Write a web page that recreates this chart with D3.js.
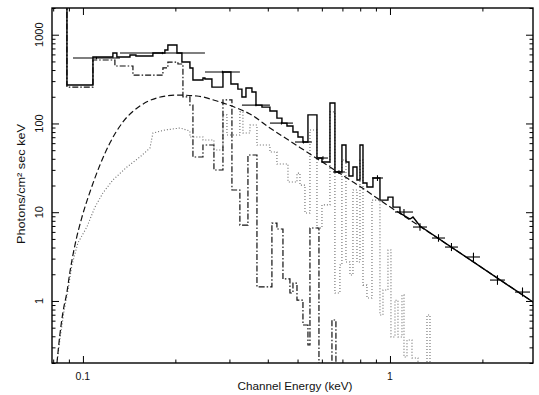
<!DOCTYPE html>
<html>
<head>
<meta charset="utf-8">
<script src="https://cdn.jsdelivr.net/npm/d3@7"></script>
<style>
  body { margin: 0; background: #fff; }
  text { font-family: "Liberation Sans", Arial, Helvetica, sans-serif; fill: #111; }
</style>
</head>
<body>
<svg id="chart" width="539" height="395"></svg>
<script>
// ---- Total model (solid histogram): bin edges in keV and photon flux per bin
const solidEdges = [0.0793, 0.0887, 0.1078, 0.1252, 0.1290, 0.1423, 0.1488, 0.1690, 0.1849, 0.1891,
  0.2024, 0.2101, 0.2231, 0.2282, 0.2460, 0.2497, 0.2631, 0.2858, 0.3034, 0.3197,
  0.3295, 0.3396, 0.3552, 0.3661, 0.3829, 0.4065, 0.4284, 0.4448, 0.4619, 0.4831,
  0.5016, 0.5207, 0.5406, 0.5784, 0.6005, 0.6376, 0.6618, 0.6975, 0.7189, 0.7352,
  0.7577, 0.7808, 0.7986, 0.8168, 0.8415, 0.8802, 0.9277, 0.9851, 1.0228, 1.0779];
const solidValues = [3000, 271, 561, 622, 561, 590, 575, 622, 672, 765,
  622, 492, 422, 309, 325, 317, 257, 380, 278, 244,
  199, 251, 226, 161, 153, 138, 115, 101, 93.6, 80.1,
  70.4, 61.8, 125, 40.8, 36.8, 170, 28.4, 57.2, 36.8, 25.6,
  32.3, 23.1, 57.2, 21.3, 19.2, 24.3, 13.7, 14.8, 11.4];
// high-energy end of the total model
const solidTailE = [1.0779, 1.1619, 1.1884, 1.2524, 2.923];
const solidTailF = [9.8, 8.38, 8.82, 6.99, 0.973];

// ---- Absorbed continuum (dashed)
const continuumE = [0.0823, 0.0841, 0.0861, 0.0887, 0.0907, 0.0942, 0.0993, 0.1054, 0.1136, 0.1224,
  0.1350, 0.1533, 0.1742, 0.2024, 0.2351, 0.2732, 0.3174, 0.3499, 0.4065, 0.4723,
  0.5488, 0.6376, 0.7408, 0.8415, 0.9277, 1.35, 2.923];
const continuumF = [0.200, 0.413, 0.751, 1.26, 2.12, 4.27, 8.83, 16.9, 34.0, 60.2,
  104, 157, 194, 209, 204, 179, 149, 128, 88.9, 63.4,
  45.3, 32.3, 23.1, 17.3, 13.7, 5.83, 0.973];

// ---- Hot plasma component (dotted): smooth low-energy part, then binned lines
const hotLowE = [0.0823, 0.0841, 0.0867, 0.0894, 0.0921, 0.0963, 0.1030, 0.1094, 0.1162, 0.1252,
  0.1391, 0.1533, 0.1653, 0.1690, 0.1849, 0.2070, 0.2231];
const hotLowF = [0.200, 0.363, 0.751, 1.33, 2.54, 4.50, 6.81, 11.4, 16.5, 23.1,
  32.3, 41.9, 52.9, 78.1, 84.4, 88.9, 82.2];
const hotEdges = [0.2231, 0.2460, 0.2671, 0.2858, 0.2945, 0.3245, 0.3320, 0.3499, 0.3688, 0.4065,
  0.4284, 0.4654, 0.4979, 0.5092, 0.5286, 0.5488, 0.5784, 0.6005, 0.6376, 0.6618,
  0.6871, 0.6975, 0.7189, 0.7408, 0.7577, 0.7808, 0.7986, 0.8168, 0.8415, 0.8738,
  0.9277, 0.9489, 0.9851, 1.0075, 1.0382, 1.0619, 1.0942, 1.1108, 1.1361, 1.1795,
  1.2338, 1.3199, 1.3500, 1.4553];
const hotValues = [70.4, 65.1, 50.2, 125, 74.1, 135, 78.1, 96.0, 57.2, 47.7,
  34.9, 21.9, 27.6, 20.2, 9.8, 84.4, 6.64, 12.1, 135, 1.23,
  2.54, 38.7, 2.75, 1.96, 17.8, 2.75, 38.7, 1.51, 1.08, 13.7,
  0.695, 1.33, 3.75, 0.393, 1.02, 0.393, 1.17, 0.234, 0.363, 0.228,
  0.147, 0.695, 0.1];

// ---- Cool plasma component (dash-dot histogram)
const coolEdges = [0.0793, 0.0887, 0.1078, 0.1271, 0.1455, 0.1822, 0.1891, 0.2039, 0.2117, 0.2231,
  0.2282, 0.2460, 0.2671, 0.2858, 0.3057, 0.3245, 0.3447, 0.3688, 0.4126, 0.4284,
  0.4482, 0.4723, 0.4831, 0.4979, 0.5207, 0.5406, 0.5488, 0.5871, 0.6472, 0.6668, 0.7134];
const coolValues = [3000, 257, 519, 444, 351, 422, 492, 468, 199, 161,
  41.9, 57.2, 29.9, 184, 17.8, 7.17, 44.1, 1.44, 7.55, 6.47,
  1.77, 1.23, 1.59, 1.02, 0.536, 0.319, 6.64, 0.1, 0.61, 0.1];

// ---- Observed spectrum: channel ranges, flux and 1-sigma range
const dataElo = [0.0928, 0.1320, 0.2497, 0.3295, 0.4065, 0.4905, 0.5828, 0.6521, 0.8738, 1.0382,
  1.1884, 1.3704, 1.5109, 1.781, 2.117, 2.554];
const dataEhi = [0.1320, 0.2497, 0.3245, 0.4065, 0.4831, 0.5570, 0.6281, 0.7134, 0.9489, 1.1884,
  1.3199, 1.5109, 1.665, 1.964, 2.369, 2.858];
const dataF = [546, 622, 380, 161, 101, 61.8, 40.8, 28.4, 24.3, 10.05,
  6.81, 5.12, 4.05, 3.13, 1.72, 1.26];
const dataLo = [530, 604, 368, 156, 97.5, 59.5, 39, 27, 22.5, 9.2,
  6.2, 4.65, 3.65, 2.8, 1.52, 1.12];
const dataHi = [562, 640, 392, 166, 104.5, 64, 42.6, 29.8, 26.1, 10.9,
  7.5, 5.65, 4.5, 3.5, 1.95, 1.42];

// ---- Axis ticks and labels
const xMajorTicks = [0.1, 1];
const xMajorLabels = ["0.1", "1"];
const xMinorTicks = [0.08, 0.09, 0.2, 0.3, 0.4, 0.5, 0.6, 0.7, 0.8, 0.9, 2];
const yMajorTicks = [1, 10, 100, 1000];
const yMajorLabels = ["1", "10", "100", "1000"];
const yMinorTicks = [0.2, 0.3, 0.4, 0.5, 0.6, 0.7, 0.8, 0.9,
  2, 3, 4, 5, 6, 7, 8, 9, 20, 30, 40, 50, 60, 70, 80, 90,
  200, 300, 400, 500, 600, 700, 800, 900, 2000];

const svg = d3.select("#chart");
const frameL = 52, frameR = 533, frameT = 8, frameB = 363;

const x = d3.scaleLog().domain([0.0793, 2.923]).range([frameL, frameR]);
const y = d3.scaleLog().domain([0.2, 2000]).range([frameB, frameT]);

svg.append("clipPath").attr("id", "plotClip")
  .append("rect").attr("x", frameL).attr("y", frameT)
  .attr("width", frameR - frameL).attr("height", frameB - frameT);

const plot = svg.append("g").attr("clip-path", "url(#plotClip)");

const line = d3.line().x(d => x(d[0])).y(d => y(d[1]));
const smooth = d3.line().x(d => x(d[0])).y(d => y(d[1])).curve(d3.curveMonotoneX);

function stepPoints(edges, values) {
  const pts = [];
  values.forEach((v, i) => { pts.push([edges[i], v], [edges[i + 1], v]); });
  return pts;
}
const zip = (a, b) => a.map((v, i) => [v, b[i]]);

// hot plasma (dotted)
plot.append("path")
  .attr("d", line(zip(hotLowE, hotLowF).concat(stepPoints(hotEdges, hotValues))))
  .attr("fill", "none").attr("stroke", "#6a6a6a").attr("stroke-width", 1.1)
  .attr("stroke-dasharray", "1,2");

// cool plasma (dash-dot)
plot.append("path")
  .attr("d", line(stepPoints(coolEdges, coolValues)))
  .attr("fill", "none").attr("stroke", "#111").attr("stroke-width", 1.2)
  .attr("stroke-dasharray", "6,2,1.5,2");

// continuum (dashed)
plot.append("path")
  .attr("d", smooth(zip(continuumE, continuumF)))
  .attr("fill", "none").attr("stroke", "#111").attr("stroke-width", 1.2)
  .attr("stroke-dasharray", "6,3");

// total model (solid)
plot.append("path")
  .attr("d", line(stepPoints(solidEdges, solidValues).concat(zip(solidTailE, solidTailF))))
  .attr("fill", "none").attr("stroke", "#000").attr("stroke-width", 1.4);

// observed channels
const pts = plot.append("g").attr("stroke", "#000").attr("stroke-width", 1.1);
dataF.forEach((f, i) => {
  pts.append("line")
    .attr("x1", x(dataElo[i])).attr("x2", x(dataEhi[i]))
    .attr("y1", y(f)).attr("y2", y(f));
  const xc = x(Math.sqrt(dataElo[i] * dataEhi[i]));
  pts.append("line")
    .attr("x1", xc).attr("x2", xc)
    .attr("y1", y(dataLo[i])).attr("y2", y(dataHi[i]));
});

// ---- axes: inward ticks on all four sides
function styleAxis(g) {
  g.select(".domain").remove();
  g.selectAll(".tick line").attr("stroke", "#000").attr("stroke-width", 1);
  g.selectAll(".tick text").remove();
}
svg.append("g").attr("transform", `translate(0,${frameB})`)
  .call(d3.axisBottom(x).tickValues(xMajorTicks).tickSize(-7)).call(styleAxis);
svg.append("g").attr("transform", `translate(0,${frameB})`)
  .call(d3.axisBottom(x).tickValues(xMinorTicks).tickSize(-3.5)).call(styleAxis);
svg.append("g").attr("transform", `translate(0,${frameT})`)
  .call(d3.axisTop(x).tickValues(xMajorTicks).tickSize(-7)).call(styleAxis);
svg.append("g").attr("transform", `translate(0,${frameT})`)
  .call(d3.axisTop(x).tickValues(xMinorTicks).tickSize(-3.5)).call(styleAxis);
svg.append("g").attr("transform", `translate(${frameL},0)`)
  .call(d3.axisLeft(y).tickValues(yMajorTicks).tickSize(-7)).call(styleAxis);
svg.append("g").attr("transform", `translate(${frameL},0)`)
  .call(d3.axisLeft(y).tickValues(yMinorTicks).tickSize(-3.5)).call(styleAxis);
svg.append("g").attr("transform", `translate(${frameR},0)`)
  .call(d3.axisRight(y).tickValues(yMajorTicks).tickSize(-7)).call(styleAxis);
svg.append("g").attr("transform", `translate(${frameR},0)`)
  .call(d3.axisRight(y).tickValues(yMinorTicks).tickSize(-3.5)).call(styleAxis);

// frame
svg.append("rect").attr("x", frameL).attr("y", frameT)
  .attr("width", frameR - frameL).attr("height", frameB - frameT)
  .attr("fill", "none").attr("stroke", "#000").attr("stroke-width", 1.4);

// tick labels
svg.selectAll(".xlab").data(xMajorTicks).enter().append("text")
  .attr("x", d => x(d)).attr("y", 380)
  .attr("text-anchor", "middle").attr("font-size", 10.5)
  .text((d, i) => xMajorLabels[i]);
svg.selectAll(".ylab").data(yMajorTicks).enter().append("text")
  .attr("transform", d => `translate(43,${y(d)}) rotate(-90)`)
  .attr("text-anchor", "middle").attr("font-size", 11)
  .text((d, i) => yMajorLabels[i]);

// axis titles
svg.append("text").attr("x", 295).attr("y", 390)
  .attr("text-anchor", "middle").attr("font-size", 11)
  .attr("textLength", 115).attr("lengthAdjust", "spacingAndGlyphs")
  .text("Channel Energy (keV)");
svg.append("text").attr("transform", "translate(25,184) rotate(-90)")
  .attr("text-anchor", "middle").attr("font-size", 11)
  .attr("textLength", 120).attr("lengthAdjust", "spacingAndGlyphs")
  .text("Photons/cm² sec keV");
</script>
</body>
</html>
